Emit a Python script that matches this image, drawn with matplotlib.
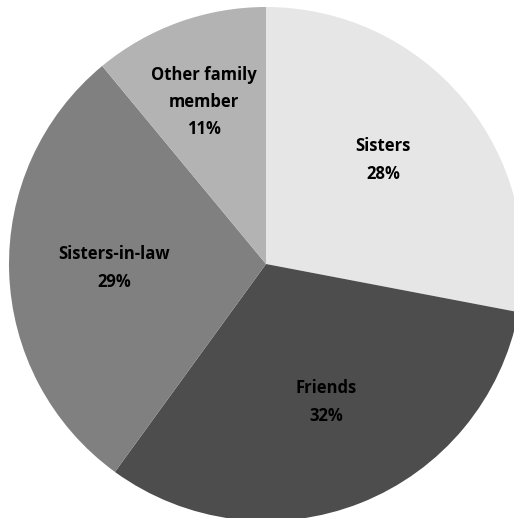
import matplotlib
matplotlib.use("Agg")
import matplotlib.pyplot as plt

categories = ["Sisters", "Friends", "Sisters-in-law", "Other family\nmember"]
values = [28, 32, 29, 11]
colors = ["#e6e6e6", "#4d4d4d", "#808080", "#b3b3b3"]
label_pos = [(383, 358), (326, 116), (114, 250), (204, 416)]

W, H = 514, 518
fig = plt.figure(figsize=(W / 100, H / 100), dpi=100)
ax = fig.add_axes([0, 0, 1, 1])
ax.pie(values, colors=colors, startangle=90, counterclock=False,
       center=(266, H - 264), radius=257, frame=True,
       wedgeprops=dict(linewidth=0))
ax.set_xlim(0, W)
ax.set_ylim(0, H)
ax.set_aspect("auto")
ax.axis("off")

for cat, v, (x, y) in zip(categories, values, label_pos):
    ax.text(x, y, f"{cat}\n{v}%", ha="center", va="center",
            fontsize=12, fontweight="bold", family="Open Sans",
            linespacing=1.66, color="black")

fig.savefig("out.png", dpi=100)
